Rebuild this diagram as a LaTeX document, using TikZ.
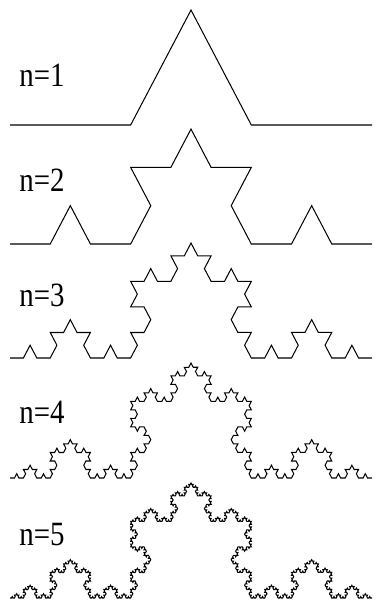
\documentclass[tikz,border=0pt]{standalone}
\usepackage{fontspec}
\setmainfont{Liberation Serif}
\usetikzlibrary{decorations.fractals}

\begin{document}
\begin{tikzpicture}[x=1pt,y=1pt,decoration=Koch snowflake,
  lab/.style={font=\fontsize{34}{34}\selectfont, xscale=0.85, inner sep=0pt},
  koch/.style={line width=1pt, line join=miter}]
\useasboundingbox (0,0) rectangle (377,605);
% labels
\foreach \n/\y in {1/530, 2/425, 3/310, 4/193, 5/70}
  \node[lab] (lab\n) at (42,\y) {n=\n};
% curves, stretched upward from their base lines
\begin{scope}[transform canvas={shift={(0,480)}, yscale=1.1}]
  \draw[koch] decorate{ (10,0) -- (372,0) };
\end{scope}
\begin{scope}[transform canvas={shift={(0,361)}, yscale=1.1}]
  \draw[koch] decorate{ decorate{ (10,0) -- (372,0) }};
\end{scope}
\begin{scope}[transform canvas={shift={(0,247)}, yscale=1.1}]
  \draw[koch] decorate{ decorate{ decorate{ (10,0) -- (372,0) }}};
\end{scope}
\begin{scope}[transform canvas={shift={(0,127)}, yscale=1.1}]
  \draw[koch] decorate{ decorate{ decorate{ decorate{ (10,0) -- (372,0) }}}};
\end{scope}
\begin{scope}[transform canvas={shift={(0,7)}, yscale=1.1}]
  \draw[koch] decorate{ decorate{ decorate{ decorate{ decorate{ (10,0) -- (372,0) }}}}};
\end{scope}
\end{tikzpicture}
\end{document}
